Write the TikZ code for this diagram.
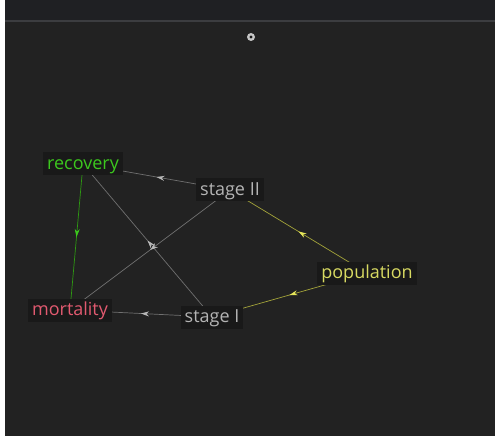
\documentclass[tikz,border=0pt]{standalone}
\usepackage{fontspec}
\setmainfont{Open Sans}
\usetikzlibrary{arrows.meta,decorations.markings,backgrounds}
\definecolor{bgc}{HTML}{222222}
\definecolor{hdrc}{HTML}{1F2023}
\definecolor{hlinec}{HTML}{3C3D40}
\definecolor{boxc}{HTML}{191919}
\definecolor{greyt}{HTML}{B4B4B4}
\definecolor{greyl}{HTML}{707070}
\definecolor{greya}{HTML}{B8B8B8}
\definecolor{greent}{HTML}{3CC81E}
\definecolor{greenl}{HTML}{2E9A12}
\definecolor{redt}{HTML}{E25A70}
\definecolor{yellt}{HTML}{D8DA62}
\definecolor{yelll}{HTML}{A4A43A}
\definecolor{yella}{HTML}{E6E65A}
\tikzset{
  vbox/.style={fill=boxc, inner xsep=4pt, inner ysep=2.5pt, text depth=3pt, text height=15pt, font=\fontsize{18}{20}\selectfont},
  midarrow/.style={line width=0.7pt, postaction={decorate}, decoration={markings,
     mark=at position 0.5 with {\arrow{Stealth[length=8pt,width=5pt,color=#1]}}}},
  greyedge/.style={draw=greyl, midarrow=greya},
  greenedge/.style={draw=greenl, midarrow=greent},
  yelledge/.style={draw=yelll, midarrow=yella}
}
\begin{document}
\begin{tikzpicture}[x=1pt,y=-1pt]
\useasboundingbox (0,0) rectangle (499,436);
\node[vbox, text=greent] (rec) at (83,164) {recovery};
\node[vbox, text=greyt] (s2) at (230,190) {stage II};
\node[vbox, text=yellt] (pop) at (367,273) {population};
\node[vbox, text=redt] (mor) at (70,310) {mortality};
\node[vbox, text=greyt] (s1) at (212,317) {stage I};
\begin{scope}[on background layer]
\fill[white] (0,0) rectangle (499,436);
\fill[bgc] (5,22) rectangle (495,436);
\fill[hdrc] (5,0) rectangle (495,20);
\fill[hlinec] (5,20) rectangle (495,22);
\fill[greya!80!white] (251,37) circle (4);
\fill[bgc!70!black] (251,37) circle (1.6);
\draw[greyedge] (s2.center) -- (rec.center);
\draw[greenedge] (rec.center) -- (mor.center);
\draw[greyedge] (s1.center) -- (rec.center);
\draw[greyedge] (s2.center) -- (mor.center);
\draw[greyedge] (s1.center) -- (mor.center);
\draw[yelledge] (pop.center) -- (s2.center);
\draw[yelledge] (pop.center) -- (s1.center);
\end{scope}
\end{tikzpicture}
\end{document}
